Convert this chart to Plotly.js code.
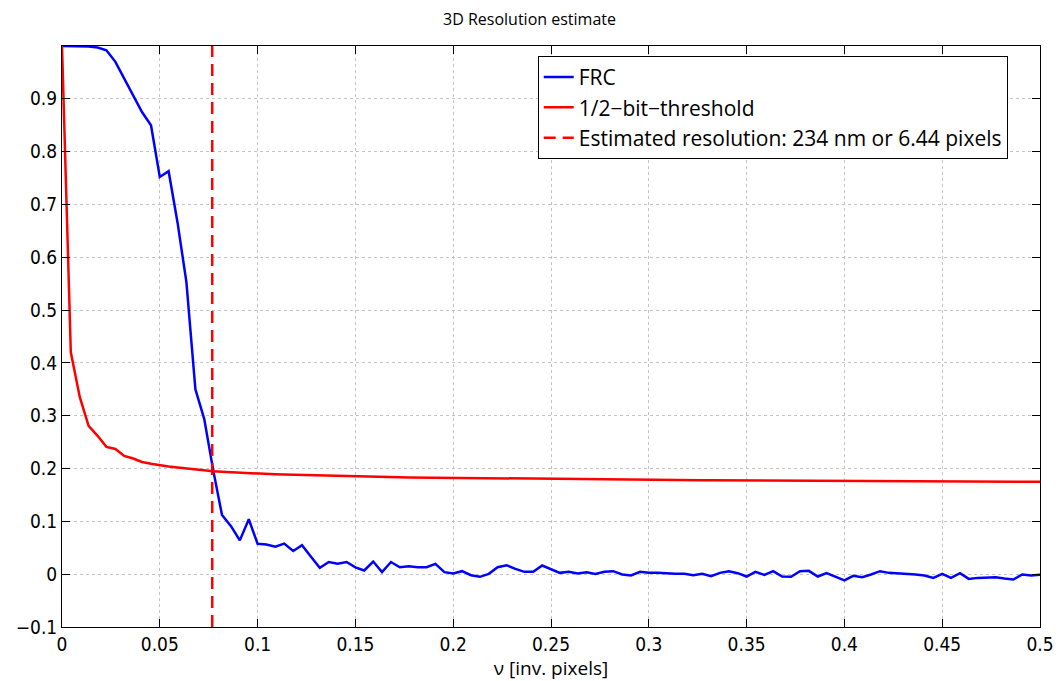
<!DOCTYPE html>
<html>
<head>
<meta charset="utf-8">
<script src="https://cdn.plot.ly/plotly-3.0.1.min.js"></script>
<style>html,body{margin:0;padding:0;background:#fff;}#chart{width:1059px;height:681px;}</style>
</head>
<body>
<div id="chart"></div>
<script>
// Spatial frequency samples (inv. pixels)
var freq = [0,0.0045,0.0091,0.0136,0.0182,0.0227,0.0273,0.0318,0.0364,0.0409,
0.0455,0.05,0.0545,0.0591,0.0636,0.0682,0.0727,0.0773,0.0818,0.0864,
0.0909,0.0955,0.1,0.1045,0.1091,0.1136,0.1182,0.1227,0.1273,0.1318,
0.1364,0.1409,0.1455,0.15,0.1545,0.1591,0.1636,0.1682,0.1727,0.1773,
0.1818,0.1864,0.1909,0.1955,0.2,0.2045,0.2091,0.2136,0.2182,0.2227,
0.2273,0.2318,0.2364,0.2409,0.2455,0.25,0.2545,0.2591,0.2636,0.2682,
0.2727,0.2773,0.2818,0.2864,0.2909,0.2955,0.3,0.3045,0.3091,0.3136,
0.3182,0.3227,0.3273,0.3318,0.3364,0.3409,0.3455,0.35,0.3545,0.3591,
0.3636,0.3682,0.3727,0.3773,0.3818,0.3864,0.3909,0.3955,0.4,0.4045,
0.4091,0.4136,0.4182,0.4227,0.4273,0.4318,0.4364,0.4409,0.4455,0.45,
0.4545,0.4591,0.4636,0.4682,0.4727,0.4773,0.4818,0.4864,0.4909,0.4955,0.5];

// FRC curve
var frc = [1.0,1.0,0.9995,0.999,0.997,0.992,0.970,0.939,0.907,0.875,
0.850,0.752,0.763,0.665,0.553,0.350,0.294,0.197,0.112,0.091,
0.064,0.104,0.0575,0.056,0.052,0.058,0.044,0.055,0.033,0.012,
0.023,0.020,0.023,0.013,0.007,0.024,0.004,0.023,0.013,0.015,
0.0133,0.0133,0.0196,0.0038,0.0013,0.0057,-0.002,-0.005,0.0006,0.0133,
0.017,0.010,0.0044,0.0044,0.0164,0.0089,0.0025,0.0044,0.0013,0.0038,
0.0006,0.0044,0.0057,-0.0006,-0.0025,0.0044,0.0025,0.0025,0.0013,0.0006,
0.0006,-0.002,0.0006,-0.0038,0.0025,0.0057,0.0019,-0.0044,0.0044,-0.0013,
0.0057,-0.0044,-0.005,0.0057,0.0063,-0.0044,0.0019,-0.0044,-0.0117,-0.0032,
-0.0057,-0.0006,0.0057,0.0025,0.0019,0.0013,-0.0006,-0.0025,-0.007,0.0006,
-0.007,0.0019,-0.0089,-0.007,-0.0057,-0.0057,-0.0082,-0.0101,-0.0006,-0.0025,-0.0013];

// 1/2-bit threshold curve
var halfBit = [1.0,0.42,0.335,0.281,0.262,0.241,0.237,0.224,0.219,0.2125,
0.209,0.206,0.204,0.202,0.200,0.198,0.1965,0.195,0.194,0.193,
0.192,0.191,0.190,0.1895,0.189,0.1885,0.188,0.1875,0.187,0.1865,
0.186,0.1857,0.1853,0.185,0.1847,0.1844,0.1841,0.1838,0.1835,0.1832,
0.183,0.1828,0.1825,0.1822,0.182,0.1818,0.1816,0.1814,0.1812,0.181,
0.1808,0.1806,0.1804,0.1802,0.18,0.18,0.1798,0.1797,0.1795,0.1794,
0.1792,0.1791,0.179,0.1789,0.1788,0.1786,0.1785,0.1784,0.1783,0.1782,
0.1781,0.178,0.1779,0.1778,0.1777,0.1776,0.1775,0.1775,0.1774,0.1773,
0.1772,0.1771,0.177,0.177,0.1769,0.1768,0.1767,0.1766,0.1765,0.1765,
0.1764,0.1763,0.1762,0.1762,0.1761,0.176,0.176,0.1759,0.1758,0.1757,
0.1757,0.1756,0.1755,0.1755,0.1754,0.1753,0.1753,0.1752,0.1751,0.1751,0.175];

// Estimated resolution marker
var resX = [0.0768, 0.0768];
var resY = [-0.1, 1.0];

var xTicks = [0,0.05,0.1,0.15,0.2,0.25,0.3,0.35,0.4,0.45,0.5];
var xTickText = ["0","0.05","0.1","0.15","0.2","0.25","0.3","0.35","0.4","0.45","0.5"];
var yTicks = [-0.1,0,0.1,0.2,0.3,0.4,0.5,0.6,0.7,0.8,0.9];
var yTickText = ["\u22120.1","0","0.1","0.2","0.3","0.4","0.5","0.6","0.7","0.8","0.9"];

var TFONT = "'DejaVu Sans Condensed', 'Liberation Sans', Arial, sans-serif";
var LFONT = "'Open Sans', 'Liberation Sans', Arial, sans-serif";

var traces = [
  {x: freq, y: frc, type: 'scatter', mode: 'lines', name: 'FRC',
   line: {color: '#0000ff', width: 2.5}},
  {x: freq, y: halfBit, type: 'scatter', mode: 'lines', name: '1/2\u2212bit\u2212threshold',
   line: {color: '#ff0000', width: 2.5}},
  {x: resX, y: resY, type: 'scatter', mode: 'lines', name: 'Estimated resolution: 234 nm or 6.44 pixels',
   line: {color: '#ff0000', width: 2.5, dash: '12px,7px'}}
];

var axisCommon = {
  showline: true, linecolor: '#000', linewidth: 1, mirror: 'ticks',
  ticks: 'inside', ticklen: 8, tickcolor: '#000', tickwidth: 1,
  showgrid: true, gridcolor: '#c4c4c4', griddash: 'dot', gridwidth: 1,
  zeroline: false, tickfont: {family: TFONT, size: 19, color: '#000'}
};

var layout = {
  width: 1059, height: 681,
  margin: {l: 62, r: 19, t: 46, b: 54},
  paper_bgcolor: '#fff', plot_bgcolor: '#fff',
  title: {text: '3D Resolution estimate', x: 0.5, xanchor: 'center', y: 0.972, yanchor: 'middle',
          font: {family: LFONT, size: 16, color: '#000'}},
  xaxis: Object.assign({}, axisCommon, {
    range: [0, 0.5], tickvals: xTicks, ticktext: xTickText,
    title: {text: '\u03bd [inv. pixels]', standoff: 7, font: {family: LFONT, size: 19, color: '#000'}}
  }),
  yaxis: Object.assign({}, axisCommon, {
    range: [-0.1, 1.0], tickvals: yTicks, ticktext: yTickText
  }),
  showlegend: true,
  legend: {x: 0.967, xanchor: 'right', y: 0.983, yanchor: 'top',
           bgcolor: '#fff', bordercolor: '#000', borderwidth: 1,
           font: {family: LFONT, size: 21, color: '#000'},
           itemwidth: 30, tracegroupgap: 0}
};

Plotly.newPlot('chart', traces, layout, {displayModeBar: false, staticPlot: true});
</script>
</body>
</html>
